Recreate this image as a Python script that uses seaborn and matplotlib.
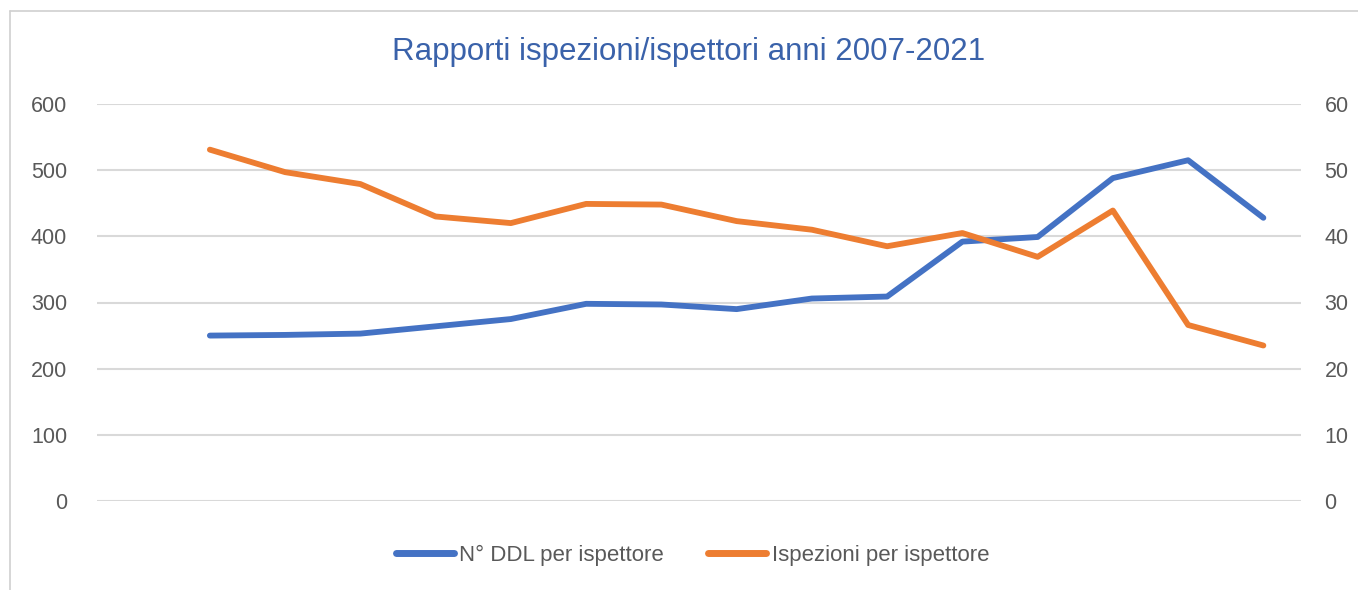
import numpy as np
import pandas as pd
import matplotlib
matplotlib.use("Agg")
import matplotlib.pyplot as plt
import seaborn as sns
from matplotlib.lines import Line2D

# Data (15 years, 2007-2021)
years = list(range(2007, 2022))
ddl_per_ispettore = [250, 251, 253, 264, 275, 298, 297, 290, 306, 309, 392, 399, 488, 515, 428]
ispezioni_per_ispettore = [53.1, 49.7, 47.9, 43.0, 42.0, 44.9, 44.8, 42.3, 41.0, 38.5, 40.5, 36.9, 43.9, 26.6, 23.5]
left_ticks = [0, 100, 200, 300, 400, 500, 600]
right_ticks = [0, 10, 20, 30, 40, 50, 60]

df = pd.DataFrame({
    "idx": np.arange(len(years)),
    "anno": years,
    "ddl": ddl_per_ispettore,
    "isp": ispezioni_per_ispettore,
})

sns.set_style("white")
plt.rcParams["font.family"] = ["Liberation Sans", "DejaVu Sans"]

BLUE = "#4472C4"
ORANGE = "#ED7D31"
GRID = "#D9D9D9"
TXT = "#595959"

fig = plt.figure(figsize=(13.58, 5.9), dpi=100)
ax = fig.add_axes([97 / 1358, 1 - 501 / 590, (1301 - 97) / 1358, (501 - 104) / 590])
ax2 = ax.twinx()

sns.lineplot(data=df, x="idx", y="ddl", ax=ax, color=BLUE, linewidth=4.2,
             solid_capstyle="round", label="N° DDL per ispettore", legend=False)
sns.lineplot(data=df, x="idx", y="isp", ax=ax2, color=ORANGE, linewidth=4.2,
             solid_capstyle="round", label="Ispezioni per ispettore", legend=False)

ax.set_xlim(-1.5, len(years) - 0.5)
ax.set_ylim(0, 600)
ax2.set_ylim(0, 60)
ax.set_yticks(left_ticks)
ax2.set_yticks(right_ticks)
ax.set_xticks([])
ax.set_xlabel("")
ax.set_ylabel("")
ax2.set_ylabel("")

ax.yaxis.grid(True, color=GRID, linewidth=1.5)
ax.set_axisbelow(True)
for a in (ax, ax2):
    for s in a.spines.values():
        s.set_visible(False)
ax.tick_params(axis="y", length=0, pad=21.5, labelsize=15.5, labelcolor=TXT)
ax2.tick_params(axis="y", length=0, pad=17, labelsize=15.5, labelcolor=TXT)

fig.text(0.507, 1 - 52 / 590, "Rapporti ispezioni/ispettori anni 2007-2021",
         ha="center", va="center", fontsize=22.5, color="#3A62AA")

handles = [Line2D([], [], color=BLUE, linewidth=5, solid_capstyle="round"),
           Line2D([], [], color=ORANGE, linewidth=5, solid_capstyle="round")]
labels = ["N° DDL per ispettore", "Ispezioni per ispettore"]
fig.legend(handles, labels, loc="center", bbox_to_anchor=(0.51, 1 - 555 / 590),
           ncol=2, frameon=False, fontsize=16, labelcolor=TXT,
           handlelength=2.6, handletextpad=0.25, columnspacing=2.0)

# chart area border (top and left edges visible)
fig.add_artist(Line2D([10 / 1358, 1], [1 - 11 / 590, 1 - 11 / 590], color="#D0D0D0", linewidth=1.2))
fig.add_artist(Line2D([10 / 1358, 10 / 1358], [0, 1 - 11 / 590], color="#D0D0D0", linewidth=1.2))

fig.savefig("out.png", dpi=100, facecolor="white")
